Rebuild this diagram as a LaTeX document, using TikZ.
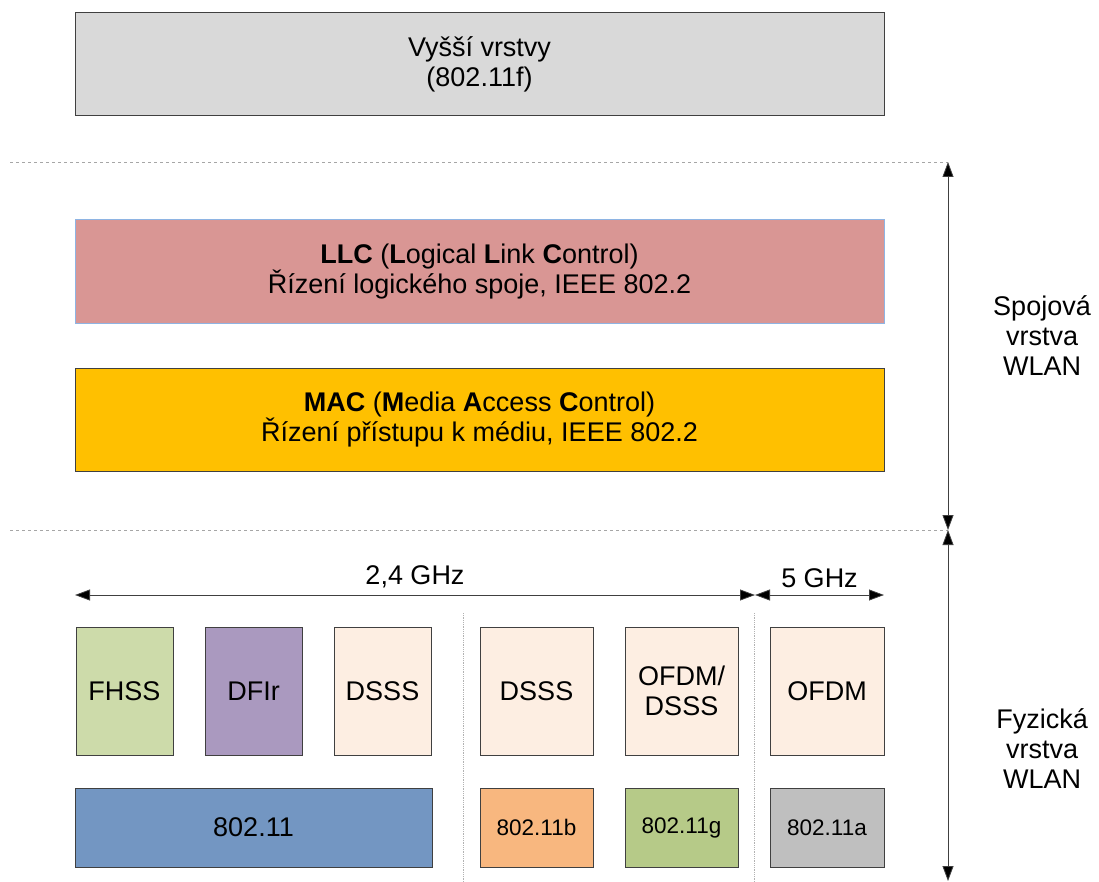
\documentclass[tikz,border=0pt]{standalone}
\usepackage{fontspec}
\setmainfont{Liberation Sans}
\usetikzlibrary{arrows.meta}
\definecolor{cTop}{HTML}{D9D9D9}
\definecolor{cLLC}{HTML}{D99694}
\definecolor{cLLCb}{HTML}{8EB4E3}
\definecolor{cMAC}{HTML}{FFC000}
\definecolor{cFHSS}{HTML}{CDDBAA}
\definecolor{cDFIr}{HTML}{AA99BF}
\definecolor{cPeach}{HTML}{FDEEE2}
\definecolor{cBlue}{HTML}{7396C2}
\definecolor{cB}{HTML}{F8B77F}
\definecolor{cG}{HTML}{B6CA88}
\definecolor{cA}{HTML}{BFBFBF}
\definecolor{cLine}{HTML}{404040}
\tikzset{
  box/.style={draw=cLine, line width=1pt, inner sep=0pt, align=center, font=\fontsize{27}{30}\selectfont},
  smallbox/.style={box, font=\fontsize{22.5}{26}\selectfont},
  sepline/.style={dashed, draw=gray!70, line width=0.6pt},
  vsep/.style={densely dotted, draw=gray!60, line width=0.8pt},
  tipA/.tip={Triangle[length=15pt,width=11pt,fill=black]},
  dim/.style={tipA-tipA, draw=cLine, line width=0.8pt},
  lbl/.style={align=center, font=\fontsize{27}{30}\selectfont, inner sep=0pt}
}
\begin{document}
\begin{tikzpicture}[x=1pt,y=-1pt]
\useasboundingbox (0,0) rectangle (1099,882);
% top layers
\node[box, fill=cTop, minimum width=809pt, minimum height=103pt] (top) at (479.5,64.5) {Vyšší vrstvy\\(802.11f)};
\node[box, fill=cLLC, draw=cLLCb, minimum width=809pt, minimum height=103pt] (llc) at (479.5,271.5)
  {\textbf{LLC} (\textbf{L}ogical \textbf{L}ink \textbf{C}ontrol)\\Řízení logického spoje, IEEE 802.2};
\node[box, fill=cMAC, minimum width=809pt, minimum height=103pt] (mac) at (479.5,419.5)
  {\textbf{MAC} (\textbf{M}edia \textbf{A}ccess \textbf{C}ontrol)\\Řízení přístupu k médiu, IEEE 802.2};
% dashed separators
\coordinate (d1l) at (10,162);
\coordinate (d1r) at (948,162);
\coordinate (d2l) at (10,530);
\coordinate (d2r) at (948,530);
\coordinate (d3) at (948,881);
\draw[sepline] (d1l) -- (d1r);
\draw[sepline] (d2l) -- (d2r);
\draw[dim] (d1r) -- (d2r);
\draw[dim] (d2r) -- (d3);
\node[lbl] (spoj) at (1042,336) {Spojová\\vrstva\\WLAN};
\node[lbl] (fyz) at (1042,749) {Fyzická\\vrstva\\WLAN};
% frequency arrows
\coordinate (f1) at (75,595);
\coordinate (f2) at (755,595);
\coordinate (f3) at (884,595);
\draw[dim] (f1) -- node[above=7pt, font=\fontsize{27}{30}\selectfont, inner sep=0pt] (g24) {2,4 GHz} (f2);
\draw[dim] (f2) -- node[above=7pt, font=\fontsize{27}{30}\selectfont, inner sep=0pt] (g5) {5 GHz} (f3);
% vertical separators
\coordinate (s1t) at (463,613);
\coordinate (s1b) at (463,882);
\coordinate (s2t) at (754,613);
\coordinate (s2b) at (754,882);
\draw[vsep] (s1t) -- (s1b);
\draw[vsep] (s2t) -- (s2b);
% modulation boxes
\node[box, fill=cFHSS, minimum width=97pt, minimum height=128pt] (fhss) at (124.5,691) {FHSS};
\node[box, fill=cDFIr, minimum width=97pt, minimum height=128pt] (dfir) at (253.5,691) {DFIr};
\node[box, fill=cPeach, minimum width=97pt, minimum height=128pt] (dsss1) at (382.5,691) {DSSS};
\node[box, fill=cPeach, minimum width=113pt, minimum height=128pt] (dsss2) at (536.5,691) {DSSS};
\node[box, fill=cPeach, minimum width=113pt, minimum height=128pt] (ofdmd) at (681.5,691) {OFDM/\\DSSS};
\node[box, fill=cPeach, minimum width=114pt, minimum height=128pt] (ofdm) at (827,691) {OFDM};
% standards
\node[box, fill=cBlue, minimum width=357pt, minimum height=79pt] (s80211) at (253.5,827.5) {802.11};
\node[smallbox, fill=cB, minimum width=113pt, minimum height=79pt] (sb) at (536.5,827.5) {802.11b};
\node[smallbox, fill=cG, minimum width=113pt, minimum height=79pt] (sg) at (681.5,827.5) {802.11g};
\node[smallbox, fill=cA, minimum width=114pt, minimum height=79pt] (sa) at (827,827.5) {802.11a};
\end{tikzpicture}
\end{document}
